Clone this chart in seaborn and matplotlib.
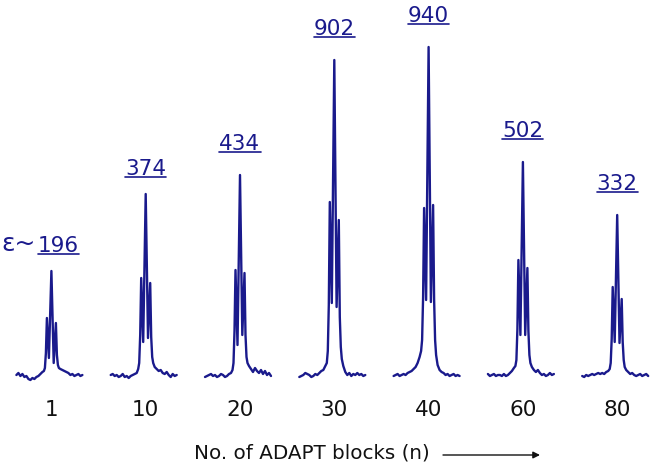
import pandas as pd
import seaborn as sns
import matplotlib.pyplot as plt
from matplotlib.lines import Line2D

# number of ADAPT blocks and the epsilon value written above each spectrum
blocks = ["1", "10", "20", "30", "40", "60", "80"]
epsilon = ["196", "374", "434", "902", "940", "502", "332"]

# field offset of each sampled point, relative to the central line (px of the original)
offsets = [-35, -33, -31, -29, -27, -25, -23, -21, -19, -17, -15, -13, -11, -9,
           -7.5, -6.5, -5.5,
           -4.5, -2.5, 0, 2.3, 4.5,
           5.5, 6.5, 7.5, 9,
           11, 13, 15, 17, 19, 21, 23, 25, 27, 29, 31]

# signal intensity (baseline = 0)
spec_1 = [0, 2, -1, 1, -2, -1, -4, -5, -3, -4, -2, -1, 1, 3,
          4, 7, 22,
          57, 17, 104, 12, 52,
          20, 10, 7, 6,
          5, 4, 3, 2, 0, 1, -1, 0, 1, -1, 0]
spec_10 = [0, 1, -1, 0, -2, -1, 1, -2, -1, -3, -1, 0, 1, 2,
           6, 12, 40,
           97, 33, 181, 37, 92,
           38, 18, 12, 8,
           6, 4, 5, 2, 1, 3, 0, -2, 1, -1, 0]
spec_20 = [-2, -1, 0, 1, -1, 0, -2, -1, 1, 0, -2, -1, 1, 2,
           5, 12, 44,
           105, 30, 200, 40, 102,
           40, 18, 12, 9,
           6, 3, 7, 4, 2, 5, 1, 4, 0, 2, -1]
spec_30 = [-2, -1, 0, 2, 1, 0, -2, -1, 1, 0, 2, 4, 5, 9,
           12, 24, 70,
           173, 72, 315, 68, 155,
           58, 28, 16, 9,
           3, 0, 2, -1, 1, 0, 2, 0, 1, -1, 0]
spec_40 = [-1, 0, 1, -1, 0, 1, 0, 2, 3, 4, 6, 8, 12, 18,
           24, 35, 78,
           167, 75, 328, 73, 170,
           76, 35, 20, 10,
           5, 3, 2, 0, 1, -1, 0, 1, -1, 0, -1]
spec_60 = [1, -1, 0, 1, -1, 0, 0, -1, 1, -1, 0, 2, 4, 7,
           9, 15, 46,
           115, 40, 213, 40, 107,
           44, 20, 12, 8,
           5, 3, 5, 2, 0, 1, -1, 0, 2, 0, 1]
spec_80 = [-1, -2, 0, -1, 0, 1, 0, 1, 2, 1, 2, 1, 3, 4,
           6, 12, 36,
           88, 33, 160, 32, 76,
           33, 15, 8, 5,
           3, 1, 2, 0, -1, 0, 1, -1, 0, 1, -1]

spectra = [spec_1, spec_10, spec_20, spec_30, spec_40, spec_60, spec_80]

navy = "#1a1a8c"
slot_px = 94.3  # horizontal distance between neighbouring spectra

rows = []
for i, (n, ys) in enumerate(zip(blocks, spectra)):
    for off, y in zip(offsets, ys):
        rows.append({"n": n, "x": i + off / slot_px, "y": y})
df = pd.DataFrame(rows)

sns.set_style("white")
plt.rcParams["font.family"] = ["DejaVu Sans"]

fig = plt.figure(figsize=(6.61, 4.66), dpi=100)
ax = fig.add_axes([0, 81 / 466, 1, 385 / 466])

sns.lineplot(data=df, x="x", y="y", units="n", estimator=None, sort=False,
             color=navy, lw=1.7, legend=False, ax=ax)

ax.set_xlim(-51.4 / slot_px, (661 - 51.4) / slot_px)
ax.set_ylim(-10, 375)
ax.set_xticks(range(len(blocks)), blocks)
ax.set_yticks([])
ax.tick_params(axis="x", length=0, pad=11, labelsize=15.5, labelcolor="#111111")
ax.set_xlabel("")
ax.set_ylabel("")
sns.despine(ax=ax, left=True, bottom=True)

labels = []
for i, (eps, ys) in enumerate(zip(epsilon, spectra)):
    dx = 5 if i == 0 else 0
    dy = 11 if i < 2 else 15
    t = ax.annotate(eps, (i, max(ys)), xytext=(dx, dy), textcoords="offset points",
                    ha="center", va="bottom", fontsize=15.5, color=navy)
    labels.append(t)

fig.text(194 / 661, 13 / 466, "No. of ADAPT blocks (n)", fontsize=14.3,
         ha="left", va="center", color="#111111")
fig.add_artist(plt.Annotation("", xy=(540 / 661, 11 / 466), xytext=(443 / 661, 11 / 466),
                              xycoords="figure fraction", textcoords="figure fraction",
                              arrowprops=dict(arrowstyle="-|>", lw=1, color="#111111",
                                              mutation_scale=10, shrinkA=0, shrinkB=0)))

# underline the epsilon values
fig.canvas.draw()
renderer = fig.canvas.get_renderer()
inv = fig.transFigure.inverted()
for t in labels:
    bb = t.get_window_extent(renderer)
    (x0, y0), (x1, _) = inv.transform([(bb.x0, bb.y0 + 2), (bb.x1, bb.y0 + 2)])
    fig.add_artist(Line2D([x0, x1], [y0, y0], color=navy, lw=1.2))

bb = labels[0].get_window_extent(renderer)
(ex, ey) = inv.transform((bb.x0 - 2, bb.y0))
fig.text(ex, ey, "ε~", fontsize=18, color=navy, ha="right", va="bottom")

fig.savefig("out.png", dpi=100)
